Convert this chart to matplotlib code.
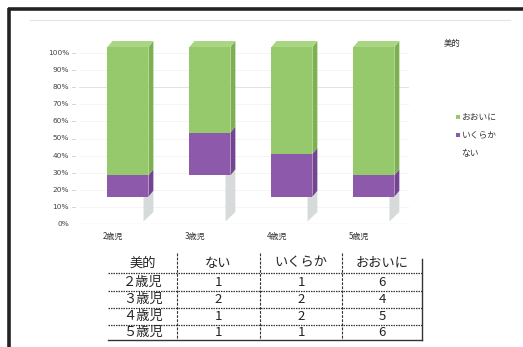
import matplotlib
matplotlib.use('Agg')
import matplotlib.pyplot as plt
from matplotlib.patches import Polygon
import numpy as np

plt.rcParams['font.family'] = ['Noto Sans CJK JP', 'DejaVu Sans']

# --- data ---
categories = ['2歳児', '3歳児', '4歳児', '5歳児']
series_names = ['ない', 'いくらか', 'おおいに']
nai = [1, 2, 1, 1]
ikuraka = [1, 2, 2, 1]
ooini = [6, 4, 5, 6]
legend_title = '美的'
yticks = np.arange(0, 1.01, 0.1)

W, H = 523, 347
fig = plt.figure(figsize=(W / 100, H / 100), dpi=100)

def fx(x): return x / W
def fy(y): return 1 - y / H

# page overlay in pixel coords (frame + table)
page = fig.add_axes([0, 0, 1, 1])
page.set_xlim(0, W); page.set_ylim(H, 0); page.axis('off')
page.plot([9, 9], [8, H], color='#222222', lw=2.6, solid_capstyle='butt')
page.plot([8, W], [9, 9], color='#222222', lw=2.6, solid_capstyle='butt')
page.plot([30, 510], [20, 20], color='#e4e4e4', lw=0.8)

# --- chart axes ---
ax = fig.add_axes([fx(70), fy(224), fx(410) - fx(70), fy(53) - fy(224)])
ax.set_xlim(-0.707, 3.44)
ax.set_ylim(0, 1)
ax.axis('off')

for t in yticks:
    c = '#dddddd' if abs(t - 0.8) < 1e-6 else '#f2f2f2'
    if t > 0:
        ax.plot([-0.6, 3.42], [t, t], color=c, lw=0.6, zorder=0)
    ax.text(-0.72, t, f'{int(round(t * 100))}%', ha='right', va='center',
            fontsize=5.3, color='#444444', family=['DejaVu Sans'])
    ax.plot([-0.68, -0.65], [t, t], color='#cccccc', lw=0.6)
ax.plot([-0.62, 3.45], [0, 0], color='#c8c8c8', lw=0.8, zorder=0)

vals = np.array([nai, ikuraka, ooini], dtype=float)
pct = vals / vals.sum(axis=0)
fronts = ['none', '#8c59ab', '#95c96c']
sides = ['#d6dada', '#744391', '#7db04f']
top_col = '#a9d682'
width = 0.5
lift = 0.035      # 3D lift of the front face
ddx, ddy = 0.06, 0.035   # depth of the bars

x = np.arange(len(categories))
bottom = np.zeros(len(categories)) + lift
for i in range(len(series_names)):
    h = pct[i]
    if fronts[i] != 'none':
        ax.bar(x, h, width, bottom=bottom, color=fronts[i], lw=0, zorder=3, clip_on=False)
    for xi, b, hh in zip(x, bottom, h):
        xr = xi + width / 2
        xl_side = xr - 0.06 if fronts[i] == 'none' else xr
        ax.add_patch(Polygon([(xl_side, b - 0.02 if fronts[i] == 'none' else b),
                              (xr + ddx, b + ddy), (xr + ddx, b + hh + ddy), (xl_side, b + hh)],
                             closed=True, color=sides[i], lw=0, zorder=2, clip_on=False))
    bottom = bottom + h

for xi, t in zip(x, bottom):
    xl, xr = xi - width / 2, xi + width / 2
    ax.add_patch(Polygon([(xl, t), (xl + ddx, t + ddy), (xr + ddx, t + ddy), (xr, t)],
                         closed=True, color=top_col, lw=0, zorder=4, clip_on=False))

for xi, c in zip(x, categories):
    ax.text(xi - 0.18, -0.075, c, ha='center', va='center', fontsize=5.8, color='#333333')

# legend
page.text(452, 43, legend_title, ha='center', va='center', fontsize=6, color='#333333')
leg_y = [117, 135, 153]
for name, col, yy in zip(series_names[::-1], fronts[::-1], leg_y):
    if col != 'none':
        page.plot(458, yy, marker='s', ms=2.6, color=col, mew=0)
    page.text(461.5, yy, name, ha='left', va='center', fontsize=6.3, color='#333333')

# --- data table below ---
col_x = [108, 177, 260, 342, 422]
row_lines = [273, 291, 308, 325, 340]
header_y = 263
row_y = [282, 299.5, 316.5, 332.5]
zen = str.maketrans('0123456789', '０１２３４５６７８９')

for yy in row_lines[:-1]:
    page.plot([col_x[0], col_x[-1]], [yy, yy], color='#333333', lw=0.9, ls=(0, (1.2, 0.8)))
page.plot([col_x[0], col_x[-1]], [row_lines[-1], row_lines[-1]], color='#333333', lw=1.0)
for xx in col_x[1:-1]:
    page.plot([xx, xx], [253, 340], color='#333333', lw=0.8, ls=(0, (2.5, 1.2)))
page.plot([col_x[-1], col_x[-1]], [259, 340], color='#333333', lw=1.0)

centers = [(a + b) / 2 for a, b in zip(col_x[:-1], col_x[1:])]
for cx, txt in zip(centers, [legend_title] + series_names):
    page.text(cx, header_y, txt, ha='center', va='center', fontsize=9.5, color='#222222')
for r, cat in enumerate(categories):
    cells = [cat.translate(zen), nai[r], ikuraka[r], ooini[r]]
    for cx, txt in zip(centers, cells):
        page.text(cx, row_y[r], str(txt), ha='center', va='center', fontsize=9.5, color='#222222')

fig.savefig('out.png', dpi=100)
